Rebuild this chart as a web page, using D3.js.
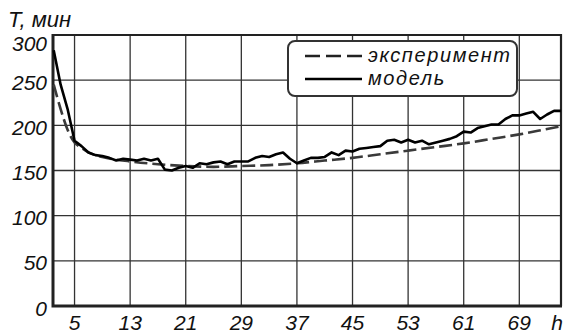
<!DOCTYPE html>
<html>
<head>
<meta charset="utf-8">
<script src="https://cdn.jsdelivr.net/npm/d3@7"></script>
<style>
  body { margin: 0; background: #fff; }
  svg text { font-family: "Liberation Sans", Arial, sans-serif; font-style: italic; fill: #111; }
</style>
</head>
<body>
<div id="chart"></div>
<script>
// Data
const modelHours = d3.range(2, 76);
const modelValues = [
  283, 245, 218, 183, 177, 170, 167, 166, 164, 161,
  163, 162, 161, 163, 161, 163, 151, 150, 153, 155,
  153, 158, 157, 159, 160, 157, 160, 160, 160, 164,
  166, 165, 168, 170, 163, 158, 161, 164, 164, 165,
  170, 167, 172, 171, 174, 175, 176, 177, 183, 184,
  181, 184, 181, 183, 179, 181, 183, 185, 188, 193,
  192, 197, 199, 201, 201, 207, 211, 211, 213, 215,
  207, 212, 216, 216,
];
const expHours = [2, 3, 4, 5, 6, 7, 9, 13, 17, 21, 25, 29, 33, 37, 41, 45, 49, 53, 57, 61, 65, 69, 73, 75];
const expValues = [245, 218, 195, 181, 175, 170, 165, 160, 157, 155, 154, 155, 156, 158, 161, 164, 168, 172, 176, 180, 185, 190, 196, 199];
const xTicks = [5, 13, 21, 29, 37, 45, 53, 61, 69];
const yTicks = [0, 50, 100, 150, 200, 250, 300];
const legendLabels = ["эксперимент", "модель"];

const width = 565, height = 334;
const margin = { top: 35, right: 4, bottom: 28, left: 53 };

const svg = d3.select("#chart").append("svg")
  .attr("width", width)
  .attr("height", height);

const x = d3.scaleLinear().domain([1.9, 75]).range([margin.left, width - margin.right]);
const y = d3.scaleLinear().domain([0, 300]).range([height - margin.bottom, margin.top]);

// Grid
const grid = svg.append("g").attr("stroke", "#333").attr("stroke-width", 1.3);
grid.selectAll(".gx").data(xTicks).join("line")
  .attr("x1", (d) => x(d)).attr("x2", (d) => x(d))
  .attr("y1", y(0)).attr("y2", y(300));
grid.selectAll(".gy").data(yTicks.filter((d) => d > 0 && d < 300)).join("line")
  .attr("x1", x(1.9)).attr("x2", x(75))
  .attr("y1", (d) => y(d)).attr("y2", (d) => y(d));

// Frame: top and right thinner, axes thicker
svg.append("path")
  .attr("d", `M${x(1.9)},${y(300)}H${x(75)}V${y(0)}`)
  .attr("fill", "none").attr("stroke", "#222").attr("stroke-width", 2.2);
svg.append("path")
  .attr("d", `M${x(1.9)},${y(300) - 1}V${y(0)}H${x(75) + 1}`)
  .attr("fill", "none").attr("stroke", "#222").attr("stroke-width", 3);

// Tick labels
svg.append("g").selectAll("text").data(yTicks).join("text")
  .attr("x", margin.left - 6)
  .attr("y", (d) => y(d) + (d === 300 ? 10 : 4))
  .attr("dominant-baseline", "middle")
  .attr("text-anchor", "end")
  .attr("font-size", 21)
  .text((d) => d);

svg.append("g").selectAll("text").data(xTicks).join("text")
  .attr("x", (d) => x(d))
  .attr("y", y(0) + 24)
  .attr("text-anchor", "middle")
  .attr("font-size", 21)
  .text((d) => d);

svg.append("text").attr("x", 557).attr("y", y(0) + 24)
  .attr("text-anchor", "middle").attr("font-size", 21).text("h");
svg.append("text").attr("x", 8).attr("y", 27)
  .attr("font-size", 22).text("T, мин");

// Lines
const line = d3.line().x((d) => x(d[0])).y((d) => y(d[1]));

svg.append("path")
  .datum(d3.zip(expHours, expValues))
  .attr("d", line.curve(d3.curveMonotoneX))
  .attr("fill", "none")
  .attr("stroke", "#3a3a3a")
  .attr("stroke-width", 2.6)
  .attr("stroke-dasharray", "13,5");

svg.append("path")
  .datum(d3.zip(modelHours, modelValues))
  .attr("d", line.curve(d3.curveLinear))
  .attr("fill", "none")
  .attr("stroke", "#000")
  .attr("stroke-width", 2.6)
  .attr("stroke-linejoin", "round");

// Legend
const legend = svg.append("g").attr("transform", "translate(288,41)");
legend.append("rect")
  .attr("width", 229).attr("height", 55).attr("rx", 7)
  .attr("fill", "#fff").attr("stroke", "#333").attr("stroke-width", 2);
legend.selectAll("line").data(legendLabels).join("line")
  .attr("x1", 17).attr("x2", 74)
  .attr("y1", (d, i) => 15 + i * 23).attr("y2", (d, i) => 15 + i * 23)
  .attr("stroke", (d, i) => (i === 0 ? "#222" : "#000"))
  .attr("stroke-width", 2.6)
  .attr("stroke-dasharray", (d, i) => (i === 0 ? "15,6" : null));
legend.selectAll("text").data(legendLabels).join("text")
  .attr("x", 80)
  .attr("y", (d, i) => 21 + i * 23)
  .attr("font-size", 20)
  .attr("letter-spacing", 1.6)
  .text((d) => d);
</script>
</body>
</html>
